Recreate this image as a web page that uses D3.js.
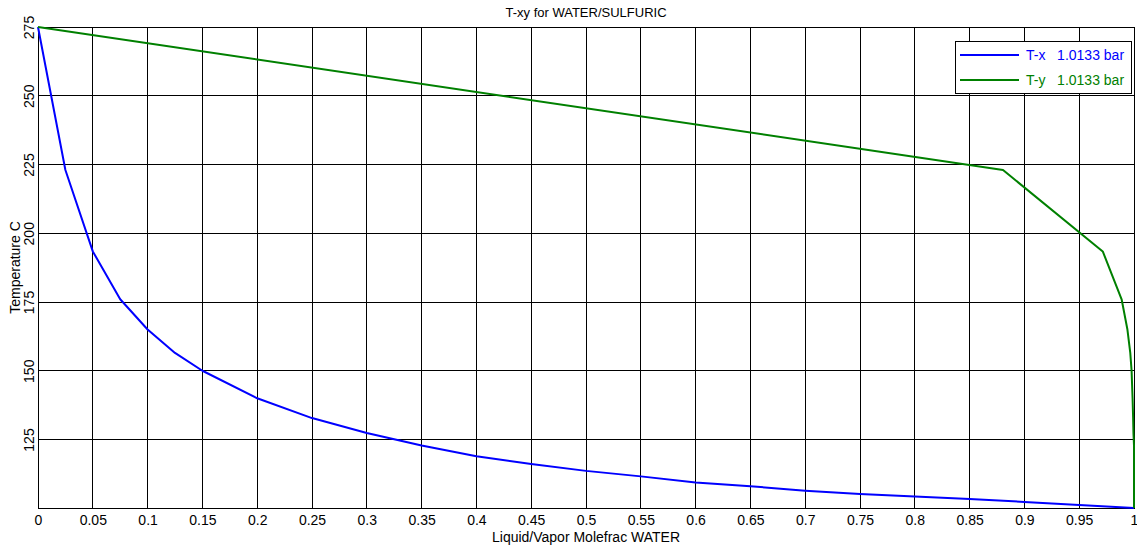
<!DOCTYPE html>
<html>
<head>
<meta charset="utf-8">
<script src="https://cdn.jsdelivr.net/npm/d3@7"></script>
<style>
  body { margin: 0; background: #fff; }
  text { font-family: "Liberation Sans", Arial, sans-serif; }
</style>
</head>
<body>
<div id="chart"></div>
<script>
// temperatures (C) and the matching liquid / vapor mole fractions of water
const temps   = [275, 223, 193.4, 176, 165, 156.5, 150, 140, 132.8, 127.4, 122.8, 118.9, 116.1, 113.6, 111.6, 109.4, 108, 106.4, 105.2, 104.3, 103.4, 102.3, 101.2, 100.1];
const xLiquid = [0, 0.025, 0.05, 0.075, 0.1, 0.125, 0.15, 0.2, 0.25, 0.3, 0.35, 0.4, 0.45, 0.5, 0.55, 0.6, 0.65, 0.7, 0.75, 0.8, 0.85, 0.9, 0.95, 1];
const yVapor  = [0, 0.8805, 0.9715, 0.9887, 0.994, 0.9966, 0.9978, 0.9987, 0.9992, 0.9995, 1, 1, 1, 1, 1, 1, 1, 1, 1, 1, 1, 1, 1, 1];

const xTicks = [0, 0.05, 0.1, 0.15, 0.2, 0.25, 0.3, 0.35, 0.4, 0.45, 0.5, 0.55, 0.6, 0.65, 0.7, 0.75, 0.8, 0.85, 0.9, 0.95, 1];
const yTicks = [125, 150, 175, 200, 225, 250, 275];

const seriesNames = ['T-x   1.0133 bar', 'T-y   1.0133 bar'];
const seriesColors = ['#0000ff', '#008000'];

const W = 1137, H = 546;
const margin = {top: 27, right: 3, bottom: 38, left: 38};
const width = W - margin.left - margin.right;
const height = H - margin.top - margin.bottom;

const svg = d3.select('#chart').append('svg')
    .attr('width', W)
    .attr('height', H);

const g = svg.append('g')
    .attr('transform', `translate(${margin.left},${margin.top})`);

const x = d3.scaleLinear().domain([0, 1]).range([0, width]);
const y = d3.scaleLinear().domain(d3.extent(temps)).range([height, 0]);

// grid
g.append('g')
    .selectAll('line')
    .data(xTicks)
    .enter().append('line')
    .attr('x1', d => x(d)).attr('x2', d => x(d))
    .attr('y1', 0).attr('y2', height)
    .attr('stroke', '#000').attr('stroke-width', 1)
    .attr('shape-rendering', 'crispEdges');

g.append('g')
    .selectAll('line')
    .data(yTicks)
    .enter().append('line')
    .attr('x1', 0).attr('x2', width)
    .attr('y1', d => y(d)).attr('y2', d => y(d))
    .attr('stroke', '#000').attr('stroke-width', 1)
    .attr('shape-rendering', 'crispEdges');

// axes
const xAxis = g.append('g')
    .attr('transform', `translate(0,${height})`)
    .call(d3.axisBottom(x).tickValues(xTicks).tickSize(0).tickPadding(7).tickFormat(d => d3.format('')(d)));
xAxis.select('.domain').remove();
xAxis.selectAll('text').attr('font-size', 14).attr('fill', '#000')
    .attr('font-family', '"Liberation Sans", Arial, sans-serif');

const yAxis = g.append('g')
    .call(d3.axisLeft(y).tickValues(yTicks).tickSize(0).tickFormat(d3.format('d')));
yAxis.select('.domain').remove();
yAxis.selectAll('text')
    .attr('font-size', 14).attr('fill', '#000')
    .attr('font-family', '"Liberation Sans", Arial, sans-serif')
    .attr('x', null).attr('dy', null)
    .attr('text-anchor', 'middle')
    .attr('transform', 'translate(-4,0) rotate(-90)');

// box
g.append('rect')
    .attr('width', width).attr('height', height)
    .attr('fill', 'none').attr('stroke', '#000').attr('stroke-width', 1)
    .attr('shape-rendering', 'crispEdges');

// curves
const liquid = temps.map((t, i) => [xLiquid[i], t]);
const vapor = temps.map((t, i) => [yVapor[i], t]);
const line = d3.line().x(d => x(d[0])).y(d => y(d[1]));

[liquid, vapor].forEach((data, i) => {
    g.append('path')
        .datum(data)
        .attr('d', line)
        .attr('fill', 'none')
        .attr('stroke', seriesColors[i])
        .attr('stroke-width', 2)
        .attr('stroke-linejoin', 'round');
});

// title and labels
svg.append('text')
    .attr('x', margin.left + width / 2).attr('y', 17)
    .attr('text-anchor', 'middle').attr('font-size', 13)
    .text('T-xy for WATER/SULFURIC');

svg.append('text')
    .attr('x', margin.left + width / 2).attr('y', 542)
    .attr('text-anchor', 'middle').attr('font-size', 14)
    .text('Liquid/Vapor Molefrac WATER');

svg.append('text')
    .attr('transform', `translate(20,${margin.top + height / 2}) rotate(-90)`)
    .attr('text-anchor', 'middle').attr('font-size', 14)
    .text('Temperature C');

// legend
const legend = svg.append('g').attr('transform', 'translate(955,41)');
legend.append('rect')
    .attr('width', 176).attr('height', 52)
    .attr('fill', '#fff').attr('stroke', '#000').attr('stroke-width', 1)
    .attr('shape-rendering', 'crispEdges');

seriesNames.forEach((name, i) => {
    const yy = 14 + i * 25;
    legend.append('line')
        .attr('x1', 5).attr('x2', 64)
        .attr('y1', yy).attr('y2', yy)
        .attr('stroke', seriesColors[i]).attr('stroke-width', 2);
    legend.append('text')
        .attr('x', 71).attr('y', yy + 5)
        .attr('font-size', 14)
        .attr('fill', seriesColors[i])
        .style('white-space', 'pre')
        .text(name);
});
</script>
</body>
</html>
